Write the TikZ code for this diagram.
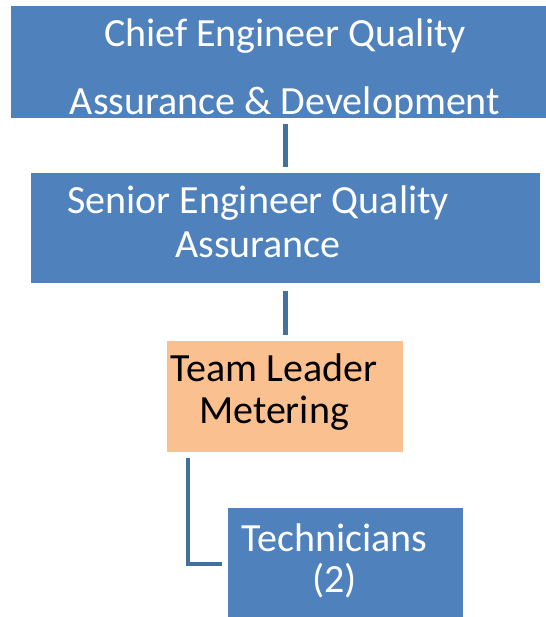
\documentclass[tikz,border=0pt]{standalone}
\usepackage{fontspec}
\setmainfont{Carlito}
\usetikzlibrary{positioning}

\definecolor{boxblue}{HTML}{4F81BD}
\definecolor{boxorange}{HTML}{FAC090}
\definecolor{linkblue}{HTML}{41719C}

\begin{document}
\begin{tikzpicture}[x=1pt, y=1pt,
  bluebox/.style={rectangle, fill=boxblue, inner sep=0pt},
  orangebox/.style={rectangle, fill=boxorange, inner sep=0pt},
  boxtext/.style={align=center, inner sep=0pt, text=white, font=\fontsize{40}{44}\selectfont},
  link/.style={draw=linkblue, line width=5pt, shorten <=6pt, shorten >=6pt}]
\useasboundingbox (0,0) rectangle (545,-617);

\node [bluebox, minimum width=548pt, minimum height=112pt] (chief) at (285,-62) {};
\node [bluebox, minimum width=509pt, minimum height=110pt] (senior) [below=55pt of chief] {};
\node [orangebox, minimum width=236pt, minimum height=111pt] (lead) [below=57pt of senior] {};
\node [bluebox, minimum width=235pt, minimum height=112pt] (tech) [below=56pt of lead, xshift=60.5pt] {};

\node [boxtext, font=\fontsize{40}{68}\selectfont] (chieftext) at ([yshift=-7.5pt]chief.center) {Chief Engineer Quality\\Assurance \& Development};
\node [boxtext] (seniortext) at ([xshift=-27pt, yshift=6.5pt]senior.center) {Senior Engineer Quality\\Assurance};
\node [boxtext, text=black, font=\fontsize{40}{42}\selectfont] (leadtext) at ([xshift=-11pt, yshift=4pt]lead.center) {Team Leader\\Metering};
\node [boxtext, font=\fontsize{40}{41}\selectfont] (techtext) at ([xshift=-11pt, yshift=3pt]tech.center) {Technicians\\(2)};

\draw [link] (chief) -- (senior);
\draw [link, shorten <=7pt] (senior) -- (lead);
\draw [link, line width=4pt] ([xshift=21pt]lead.south west) |- (tech.west);
\end{tikzpicture}
\end{document}
